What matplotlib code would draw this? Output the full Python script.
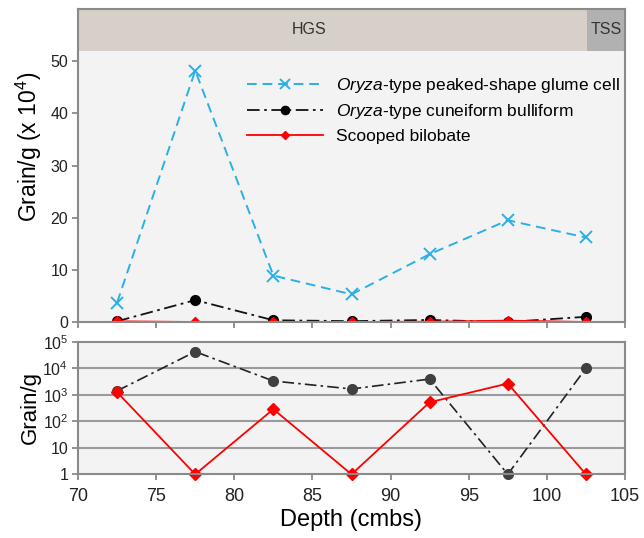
import matplotlib
matplotlib.use("Agg")
import matplotlib.pyplot as plt
import numpy as np

plt.rcParams['font.family'] = ['Liberation Sans', 'DejaVu Sans']
plt.rcParams['mathtext.fontset'] = 'custom'
plt.rcParams['mathtext.rm'] = 'Liberation Sans'
plt.rcParams['mathtext.it'] = 'Liberation Sans:italic'
plt.rcParams['mathtext.default'] = 'regular'

depth = [72.5, 77.5, 82.5, 87.5, 92.5, 97.5, 102.5]
glume = [3.7, 48.2, 8.9, 5.3, 13.0, 19.5, 16.2]          # x 10^4 grain/g
bulliform = [1400, 42000, 3300, 1650, 3900, 1, 10000]    # grain/g
bilobate = [1250, 1, 285, 1, 520, 2650, 1]               # grain/g

labels = [r'$\mathit{Oryza}$-type peaked-shape glume cell',
          r'$\mathit{Oryza}$-type cuneiform bulliform',
          'Scooped bilobate']
zones = ['HGS', 'TSS']
zone_edges = [70, 102.6, 105]
log_ticks = [1, 10, 100, 1000, 10000, 100000]
log_ticklabels = ['1', '10', r'$10^{2}$', r'$10^{3}$', r'$10^{4}$', r'$10^{5}$']

W, H = 644, 538
fig = plt.figure(figsize=(W / 100, H / 100), dpi=100)
left, right = 78 / W, 625 / W
ax1 = fig.add_axes([left, 1 - 322 / H, right - left, (322 - 9) / H])
ax2 = fig.add_axes([left, 1 - 474.3 / H, right - left, (474.3 - 341.7) / H])

bg = '#f3f3f3'
spc = '#8a8a8a'
blue = '#2ab0e6'
red = '#ff0000'

for ax in (ax1, ax2):
    ax.set_facecolor(bg)
    for s in ax.spines.values():
        s.set_color(spc)
        s.set_linewidth(1.5)
    ax.tick_params(direction='out', color=spc, width=1.3, length=4, labelcolor='#222222')
    ax.set_xlim(70, 105)
    ax.set_xticks(np.arange(70, 106, 5))

# top panel
ax1.set_ylim(0, 60)
ax1.set_yticks([0, 10, 20, 30, 40, 50])
ax1.tick_params(axis='y', labelsize=11.5, pad=3)
ax1.tick_params(axis='x', labelbottom=False)
ax1.axhspan(52, 60, xmin=0, xmax=(zone_edges[1] - 70) / 35, color='#d6d0c8', lw=0)
ax1.axhspan(52, 60, xmin=(zone_edges[1] - 70) / 35, xmax=1, color='#b1b1b1', lw=0)
ax1.text(84.8, 56, zones[0], ha='center', va='center', fontsize=11.5, color='#333333')
ax1.text((zone_edges[1] + zone_edges[2]) / 2, 56, zones[1], ha='center', va='center',
         fontsize=11.5, color='#333333')

ax1.plot(depth, glume, color=blue, ls=(0, (5, 3)), lw=1.4, marker='x', ms=9, mew=1.4,
         label=labels[0])
ax1.plot(depth, np.array(bulliform) / 1e4, color='#111111', ls=(0, (7, 2.5, 1.5, 2.5)), lw=1.3,
         marker='o', ms=7, mfc='black', mec='black', label=labels[1])
ax1.plot(depth, np.array(bilobate) / 1e4, color=red, ls='-', lw=1.3, marker='D', ms=5,
         mfc=red, mec=red, label=labels[2])
ax1.set_ylabel(r'Grain/g (x 10$^{4}$)', fontsize=16.5)
ax1.yaxis.set_label_coords(-0.063, 0.56)

leg = ax1.legend(loc='upper left', bbox_to_anchor=(247 / W, 1 - 76 / H),
                 bbox_transform=fig.transFigure, frameon=False, fontsize=12.5,
                 handlelength=4.4, handletextpad=0.75, labelspacing=0.42,
                 borderpad=0, borderaxespad=0, markerscale=0.85)

# bottom panel
ax2.set_yscale('log')
ax2.set_ylim(1, 1e5)
ax2.set_yticks(log_ticks)
ax2.set_yticklabels(log_ticklabels)
ax2.minorticks_off()
ax2.tick_params(axis='y', labelsize=11.5, pad=3)
ax2.tick_params(axis='x', labelsize=13, pad=6)
for t in log_ticks[1:-1]:
    ax2.axhline(t, color='#9a9a9a', lw=1.5, zorder=0.5)

ax2.plot(depth, bulliform, color='#222222', ls=(0, (7, 2.5, 1.5, 2.5)), lw=1.2,
         marker='o', ms=7, mfc='#404040', mec='#404040', clip_on=False)
ax2.plot(depth, bilobate, color=red, ls='-', lw=1.3, marker='D', ms=6,
         mfc=red, mec=red, clip_on=False)
ax2.set_ylabel('Grain/g', fontsize=16)
ax2.yaxis.set_label_coords(-0.068, 0.5)
ax2.set_xlabel('Depth (cmbs)', fontsize=17, labelpad=3)

fig.savefig('out.png', dpi=100)
